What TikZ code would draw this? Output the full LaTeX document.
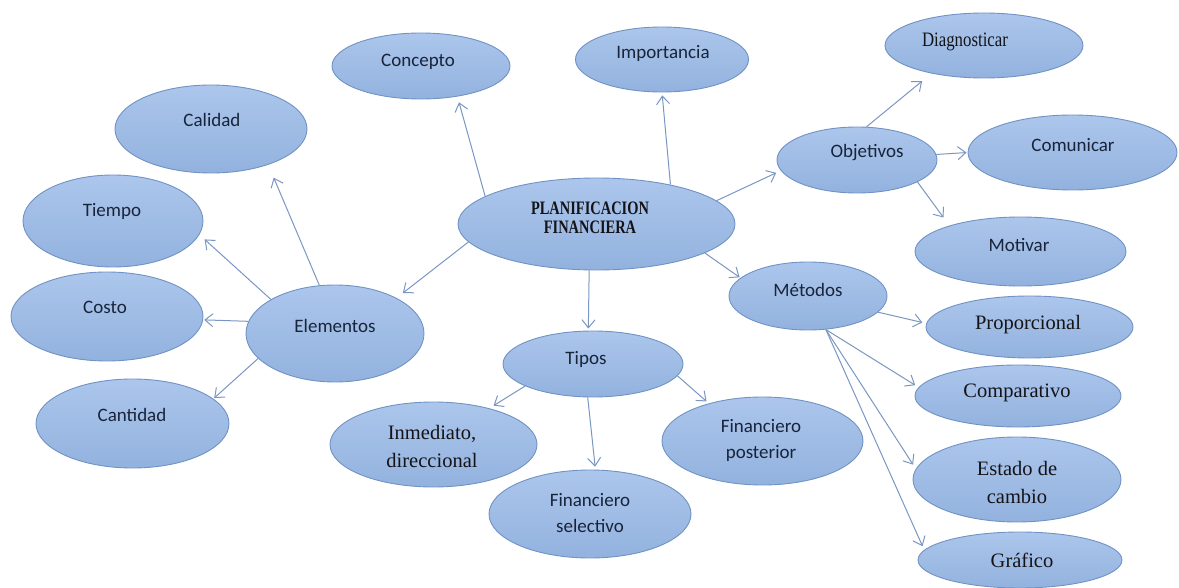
\documentclass[tikz,border=0pt]{standalone}
\usepackage{fontspec}
\usepackage{graphicx}
\setmainfont{Liberation Serif}
\newfontfamily\calib{Carlito}
\usetikzlibrary{shapes.geometric,arrows.meta}

\definecolor{fillTop}{RGB}{172,198,236}
\definecolor{fillBot}{RGB}{146,178,222}
\definecolor{rim}{RGB}{112,146,196}
\definecolor{link}{RGB}{122,150,194}
\definecolor{sansInk}{RGB}{24,36,58}
\definecolor{serifInk}{RGB}{20,20,24}

\tikzset{
  bubble/.style={ellipse, draw=rim, line width=0.9pt, top color=fillTop,
    bottom color=fillBot, inner sep=0pt},
  sanslbl/.style={inner sep=0pt, align=center, text=sansInk,
    font=\calib\fontsize{19}{25.5}\selectfont},
  seriflbl/.style={inner sep=0pt, align=center, text=serifInk,
    font=\fontsize{20.5}{28}\selectfont},
  link/.style={draw=link, line width=1pt,
    -{Straight Barb[length=8pt,width=13pt]}, shorten >=#1},
  link/.default=2pt
}
% horizontally condensed text
\newcommand{\narrowtxt}[2]{\scalebox{#1}[1]{#2}}

\begin{document}
\begin{tikzpicture}[x=1pt,y=-1pt]
\useasboundingbox (0,0) rectangle (1179,588);

% ---- bubbles ----
\node[bubble, minimum width=277, minimum height=92] (ctr) at (596.5,224) {};
\node[bubble, minimum width=178, minimum height=66] (concepto) at (421,66) {};
\node[bubble, minimum width=173, minimum height=65] (importancia) at (662,59.5) {};
\node[bubble, minimum width=198, minimum height=65] (diagnosticar) at (984,45.5) {};
\node[bubble, minimum width=192, minimum height=88] (calidad) at (211,129) {};
\node[bubble, minimum width=180, minimum height=92] (tiempo) at (113,221) {};
\node[bubble, minimum width=192, minimum height=89] (costo) at (107,316.5) {};
\node[bubble, minimum width=193, minimum height=89] (cantidad) at (132.5,423.5) {};
\node[bubble, minimum width=178, minimum height=97] (elementos) at (335,333.5) {};
\node[bubble, minimum width=160, minimum height=66] (objetivos) at (857,160) {};
\node[bubble, minimum width=209, minimum height=75] (comunicar) at (1072.5,152.5) {};
\node[bubble, minimum width=211, minimum height=69] (motivar) at (1020.5,251.5) {};
\node[bubble, minimum width=158, minimum height=68] (metodos) at (808,296) {};
\node[bubble, minimum width=207, minimum height=62] (proporcional) at (1029.5,327) {};
\node[bubble, minimum width=206, minimum height=62] (comparativo) at (1018,396) {};
\node[bubble, minimum width=208, minimum height=85] (estado) at (1017,479.5) {};
\node[bubble, minimum width=204, minimum height=56] (grafico) at (1020,560) {};
\node[bubble, minimum width=180, minimum height=66] (tipos) at (593,364) {};
\node[bubble, minimum width=207, minimum height=85] (inmediato) at (433.5,444.5) {};
\node[bubble, minimum width=202, minimum height=88] (selectivo) at (590,514) {};
\node[bubble, minimum width=201, minimum height=88] (posterior) at (762.5,441) {};

% ---- labels ----
\node[inner sep=0pt, align=center, text=serifInk,
  font=\bfseries\fontsize{19}{19}\selectfont] (ctr-t) at (590,217.5)
  {\narrowtxt{0.76}{PLANIFICACION}\\\narrowtxt{0.76}{FINANCIERA}};
\node[sanslbl] (concepto-t) at (418,62) {Concepto};
\node[sanslbl] (importancia-t) at (663,53) {Importancia};
\node[seriflbl] (diagnosticar-t) at (965,42) {\narrowtxt{0.82}{Diagnosticar}};
\node[sanslbl] (calidad-t) at (212,120) {Calidad};
\node[sanslbl] (tiempo-t) at (112,211) {Tiempo};
\node[sanslbl] (costo-t) at (105,307) {Costo};
\node[sanslbl] (cantidad-t) at (132,415) {Cantidad};
\node[sanslbl] (elementos-t) at (335,326) {Elementos};
\node[sanslbl] (objetivos-t) at (867,153) {Objetivos};
\node[sanslbl] (comunicar-t) at (1073,145) {Comunicar};
\node[sanslbl] (motivar-t) at (1019,245) {Motivar};
\node[sanslbl] (metodos-t) at (808,290) {Métodos};
\node[seriflbl] (proporcional-t) at (1028,325) {Proporcional};
\node[seriflbl] (comparativo-t) at (1017,393) {Comparativo};
\node[seriflbl] (estado-t) at (1017,482.5) {Estado de\\cambio};
\node[seriflbl] (grafico-t) at (1022,560) {Gráfico};
\node[sanslbl] (tipos-t) at (586,359) {Tipos};
\node[seriflbl] (inmediato-t) at (432,446.5) {Inmediato,\\direccional};
\node[sanslbl] (selectivo-t) at (590,513) {Financiero\\selectivo};
\node[sanslbl] (posterior-t) at (761,440.5) {Financiero\\posterior};

% ---- connectors ----
\draw[link=6pt]  (ctr.166) -- (concepto.320);
\draw[link=3pt]  (ctr.28) -- (importancia.270);
\draw[link=5pt]  (ctr.11) -- (objetivos.188);
\draw[link=12pt] (objetivos.74) -- (diagnosticar.208);
\draw[link=1pt]  (objetivos.4) -- (comunicar.180);
\draw[link=10pt] (objetivos.340) -- (motivar.160);
\draw[link=1pt]  (ctr.345) -- (metodos.165);
\draw[link=4pt]  (metodos.347) -- (proporcional.178);
\draw[link=4pt]  (metodos.298) -- (comparativo.175);
\draw[link=5pt]  (metodos.298) -- (estado.174);
\draw[link=4pt]  (metodos.298) -- (grafico.174);
\draw[link=2pt]  (ctr.261) -- (tipos.98);
\draw[link=5pt]  (tipos.198) -- (inmediato.33);
\draw[link=3pt]  (tipos.261) -- (selectivo.83);
\draw[link=3pt]  (tipos.352) -- (posterior.145);
\draw[link=8pt]  (ctr.188) -- (elementos.30);
\draw[link=14pt] (elementos.108) -- (calidad.328);
\draw[link=7pt]  (elementos.152) -- (tiempo.351);
\draw[link=1pt]  (elementos.172) -- (costo.358);
\draw[link=1pt]  (elementos.198) -- (cantidad.17);
\end{tikzpicture}
\end{document}
